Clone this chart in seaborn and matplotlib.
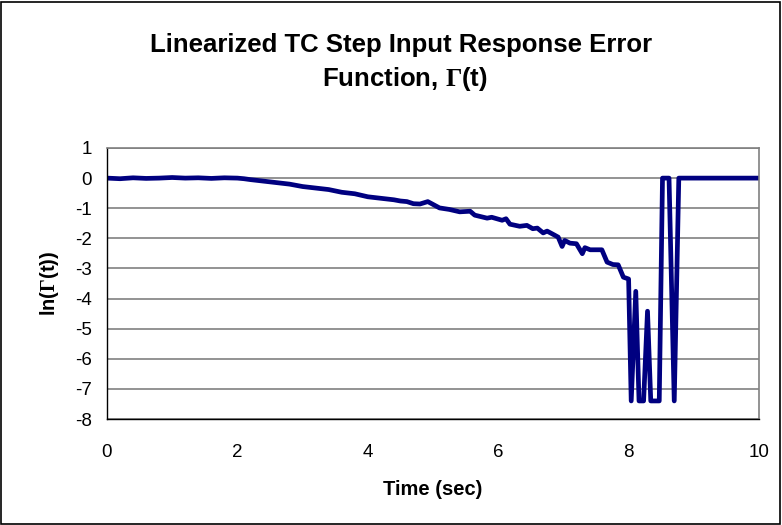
import matplotlib
matplotlib.use("Agg")
import matplotlib.pyplot as plt
import seaborn as sns
import pandas as pd
from matplotlib.patches import Rectangle

# values
time_sec = [0.0, 0.2, 0.4, 0.6, 0.8, 1.0, 1.2, 1.4, 1.6, 1.8, 2.0, 2.1,
            2.2, 2.4, 2.6, 2.8, 3.0, 3.2, 3.4, 3.6, 3.8, 4.0, 4.2, 4.4,
            4.5, 4.6, 4.7, 4.8, 4.92, 5.1, 5.25, 5.41, 5.57, 5.64, 5.83,
            5.9, 6.06, 6.12, 6.18, 6.33, 6.44, 6.53, 6.6, 6.69, 6.75,
            6.87, 6.92, 6.98, 7.02, 7.1, 7.2, 7.29, 7.33, 7.41, 7.59,
            7.67, 7.76, 7.84, 7.92, 8.0, 8.04, 8.11, 8.16, 8.23, 8.29,
            8.34, 8.4, 8.47, 8.52, 8.62, 8.7, 8.77, 9.0, 9.5, 10.0]
ln_gamma = [0.0, -0.02, 0.01, -0.01, 0.0, 0.02, 0.0, 0.01, -0.01, 0.01, 0.0, -0.02,
            -0.05, -0.1, -0.15, -0.2, -0.28, -0.33, -0.38, -0.47, -0.52, -0.62, -0.67, -0.72,
            -0.76, -0.78, -0.85, -0.86, -0.78, -0.99, -1.04, -1.12, -1.1, -1.23, -1.33,
            -1.3, -1.4, -1.35, -1.53, -1.6, -1.57, -1.68, -1.66, -1.82, -1.76,
            -1.9, -1.96, -2.27, -2.07, -2.16, -2.18, -2.51, -2.31, -2.38, -2.38,
            -2.79, -2.87, -2.88, -3.29, -3.35, -7.4, -3.76, -7.4, -7.4, -4.42,
            -7.4, -7.4, -7.4, 0.0, 0.0, -7.4, 0.0, 0.0, 0.0, 0.0]
x_ticks = [0, 2, 4, 6, 8, 10]
y_ticks = [1, 0, -1, -2, -3, -4, -5, -6, -7, -8]

df = pd.DataFrame({"t": time_sec, "ln": ln_gamma})

sns.set_style("white")
plt.rcParams["font.family"] = ["Liberation Sans", "DejaVu Sans"]
plt.rcParams["axes.unicode_minus"] = False
plt.rcParams["text.color"] = "black"
plt.rcParams["axes.labelcolor"] = "black"
plt.rcParams["mathtext.fontset"] = "custom"
plt.rcParams["mathtext.rm"] = "Liberation Serif:bold"
plt.rcParams["mathtext.it"] = "Liberation Serif:bold"
plt.rcParams["mathtext.bf"] = "Liberation Serif:bold"

fig = plt.figure(figsize=(7.82, 5.25), dpi=100)
ax = fig.add_axes([107 / 782, 1 - 419 / 525, (759 - 107) / 782, (419 - 148) / 525])

sns.lineplot(data=df, x="t", y="ln", ax=ax, color="#000080", linewidth=3.4, sort=False)

ax.set_xlim(0, 10)
ax.set_ylim(-8, 1)
ax.set_xticks(x_ticks)
ax.set_yticks(y_ticks)
ax.tick_params(axis="both", direction="out", length=6, width=1, labelsize=13.5,
               colors="black")
ax.tick_params(axis="y", pad=5)
ax.tick_params(axis="x", pad=12)
ax.yaxis.grid(True, color="#808080", linewidth=1.2)
ax.xaxis.grid(False)

for side in ["top", "right"]:
    ax.spines[side].set_color("#808080")
    ax.spines[side].set_linewidth(1.2)
for side in ["left", "bottom"]:
    ax.spines[side].set_color("black")
    ax.spines[side].set_linewidth(1)

ax.set_xlabel("Time (sec)", fontsize=14.5, fontweight="bold", labelpad=14)
ax.set_ylabel(r"ln($\Gamma$(t))", fontsize=14.5, fontweight="bold", labelpad=10)

fig.text(401 / 782, 1 - 45 / 525, "Linearized TC Step Input Response Error",
         ha="center", va="center", fontsize=18.5, fontweight="bold")
fig.text(405 / 782, 1 - 79 / 525, r"Function, $\Gamma$(t)",
         ha="center", va="center", fontsize=18.5, fontweight="bold")

fig.patches.append(Rectangle((1 / 782, 1 / 525), 779 / 782, 522 / 525,
                             transform=fig.transFigure, fill=False,
                             edgecolor="black", linewidth=1.2))

fig.savefig("out.png", dpi=100)
